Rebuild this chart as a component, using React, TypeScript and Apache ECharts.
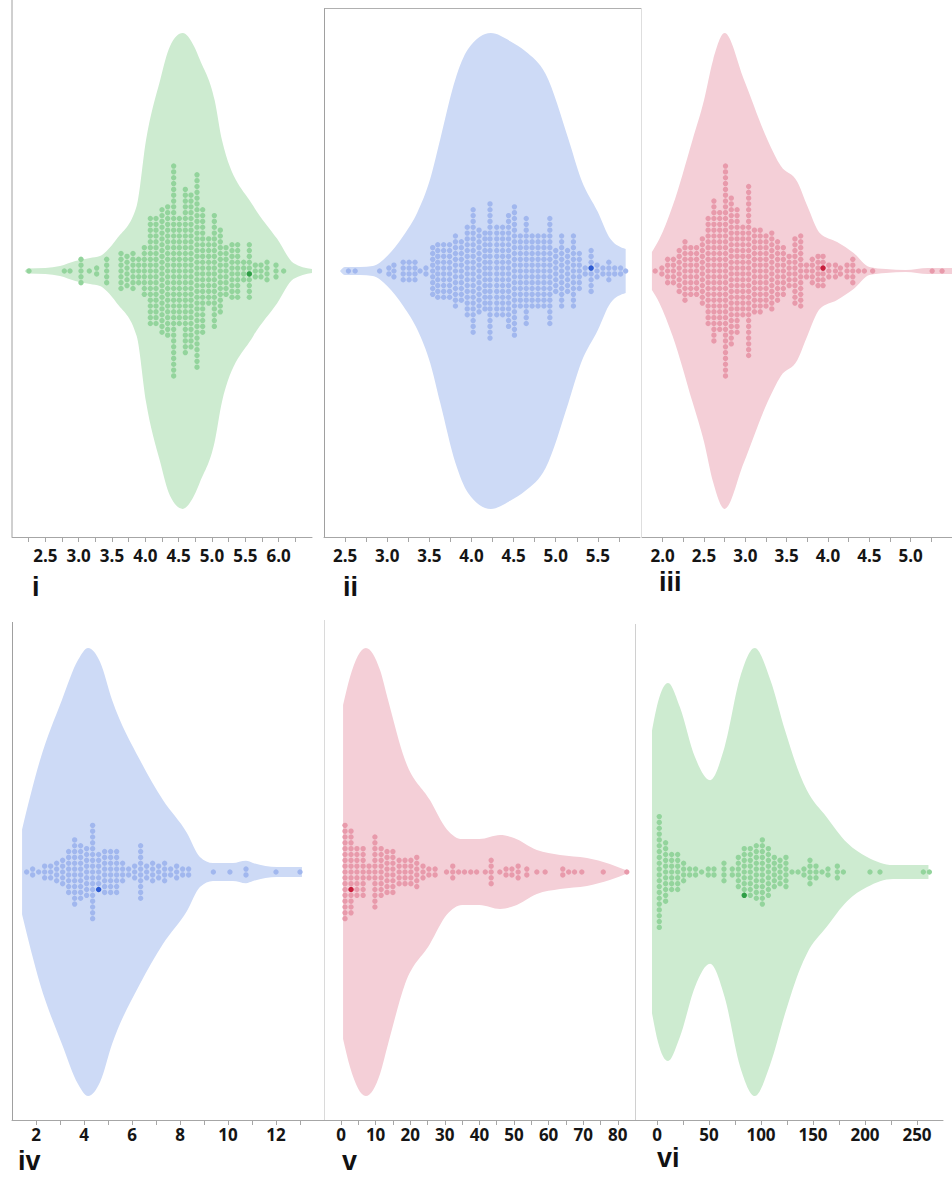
import React, { useEffect, useRef } from "react";
import * as echarts from "echarts";

// ---------- violin profiles: [value, relative density (peak = 1)] ----------
const violinI = [[2.19,0],[2.24,0.011],[2.5,0.013],[2.72,0.021],[2.95,0.042],[3.17,0.055],[3.32,0.063],[3.42,0.084],[3.57,0.134],[3.87,0.273],[4.01,0.55],[4.22,0.8],[4.37,0.945],[4.56,1.0],[4.73,0.945],[4.82,0.887],[5.04,0.718],[5.15,0.55],[5.62,0.273],[5.98,0.134],[6.22,0.034],[6.5,0.008]];
const violinII = [[2.44,0],[2.5,0.017],[2.68,0.017],[2.83,0.021],[3.0,0.063],[3.19,0.147],[3.36,0.248],[3.51,0.387],[3.63,0.555],[3.81,0.807],[3.96,0.933],[4.23,1.0],[4.46,0.966],[4.64,0.924],[4.88,0.828],[5.15,0.555],[5.3,0.387],[5.5,0.248],[5.65,0.134],[5.83,0.092]];
const violinIII = [[1.87,0.08],[1.96,0.134],[2.12,0.273],[2.36,0.55],[2.5,0.718],[2.61,0.887],[2.75,1.0],[2.98,0.807],[3.27,0.55],[3.43,0.441],[3.63,0.374],[3.75,0.273],[3.9,0.16],[4.11,0.122],[4.31,0.076],[4.5,0.017],[4.7,0.008],[4.94,0.004],[5.21,0.013],[5.42,0.013],[5.5,0.013]];
const violinIV = [[1.42,0.19],[2.17,0.5],[3.08,0.768],[3.75,0.946],[4.17,1.0],[4.67,0.9375],[5.17,0.768],[6.33,0.5],[7.29,0.321],[8.29,0.174],[8.83,0.067],[9.375,0.04],[10.2,0.04],[10.75,0.05],[11.04,0.04],[12.04,0.022],[12.7,0.022],[13.08,0.022]];
const violinV = [[0.6,0.745],[2.6,0.87],[7.2,1.0],[11.3,0.9],[13.6,0.768],[18.5,0.5],[25.7,0.321],[30.6,0.19],[35,0.147],[40,0.147],[46,0.165],[50,0.152],[56.6,0.098],[63.3,0.076],[71.1,0.0625],[77.7,0.036],[83,0.004]];
const violinVI = [[-4.8,0.63],[1,0.76],[10.6,0.844],[22,0.737],[36.5,0.513],[51,0.41],[65,0.558],[80,0.87],[94,1.0],[109,0.857],[123,0.634],[137.5,0.433],[144,0.366],[163,0.246],[183,0.129],[202,0.067],[227,0.031],[250,0.031],[261,0.031]];

// ---------- beeswarm columns: [value, number of dots] ----------
const dotsI = [[2.255,1],[2.785,1],[2.87,1],[3.035,5],[3.16,1],[3.27,2],[3.42,5],[3.635,7],[3.725,6],[3.815,7],[3.9,5],[3.985,9],[4.075,19],[4.16,19],[4.25,22],[4.335,23],[4.425,37],[4.51,19],[4.6,29],[4.685,27],[4.775,34],[4.86,22],[4.95,12],[5.035,20],[5.125,15],[5.21,9],[5.3,10],[5.385,10],[5.475,4],[5.56,10],[5.65,3],[5.735,3],[5.825,4],[5.96,3],[6.075,1]];
const dotsII = [[2.54,1],[2.62,1],[2.91,1],[3.02,2],[3.08,3],[3.19,4],[3.26,4],[3.33,4],[3.39,1],[3.46,2],[3.54,9],[3.6,10],[3.67,10],[3.74,10],[3.81,13],[3.88,11],[3.95,16],[4.02,22],[4.09,15],[4.16,14],[4.22,24],[4.3,16],[4.37,16],[4.44,20],[4.51,23],[4.58,13],[4.65,19],[4.72,13],[4.79,13],[4.86,13],[4.93,19],[5.0,8],[5.07,13],[5.14,8],[5.21,13],[5.28,7],[5.35,2],[5.42,8],[5.49,3],[5.56,2],[5.63,4],[5.7,2],[5.77,2],[5.83,1]];
const dotsIII = [[1.91,1],[1.99,2],[2.06,5],[2.13,5],[2.2,8],[2.27,11],[2.34,9],[2.41,9],[2.48,12],[2.55,19],[2.62,25],[2.69,21],[2.76,37],[2.83,26],[2.9,22],[2.97,16],[3.04,30],[3.11,15],[3.18,15],[3.25,13],[3.32,14],[3.39,11],[3.46,9],[3.53,6],[3.6,12],[3.67,13],[3.74,3],[3.81,5],[3.88,6],[3.94,6],[4.01,3],[4.09,3],[4.15,2],[4.23,3],[4.3,5],[4.37,1],[4.44,1],[4.54,1],[5.26,1],[5.38,1]];
const dotsIV = [[1.61,1],[1.86,2],[2.11,1],[2.36,3],[2.61,3],[2.86,4],[3.11,5],[3.36,8],[3.61,12],[3.86,10],[4.11,9],[4.36,17],[4.61,7],[4.86,8],[5.11,8],[5.36,8],[5.61,4],[5.86,2],[6.11,3],[6.36,10],[6.61,3],[6.86,4],[7.11,3],[7.36,4],[7.61,2],[7.86,3],[8.11,2],[8.36,2],[9.39,1],[10.08,1],[10.75,2],[12.0,1],[13.0,1]];
const dotsV = [[1.16,17],[2.9,15],[4.6,9],[6.4,9],[8.1,3],[9.8,13],[11.6,9],[13.3,8],[15.0,8],[16.8,5],[18.5,5],[20.2,5],[21.9,6],[23.7,3],[25.4,2],[27.2,2],[30.5,1],[32.3,3],[34.0,1],[35.7,1],[37.5,1],[39.2,1],[41.7,1],[43.4,5],[45.9,1],[47.7,2],[49.4,2],[51.2,3],[53.7,2],[56.6,1],[59.0,1],[64.1,2],[65.8,1],[67.5,1],[69.6,1],[75.8,1],[82.6,1]];
const dotsVI = [[2.2,20],[8.3,11],[14.1,7],[19.9,7],[25.6,4],[31.4,2],[37.1,2],[42.9,1],[49.3,2],[54.8,2],[64.4,4],[72.4,2],[78.2,6],[83.9,9],[89.7,9],[95.5,10],[101.3,12],[107.1,9],[112.8,6],[118.3,5],[124.0,6],[129.8,1],[135.6,1],[141.3,2],[147.1,5],[152.9,3],[158.7,1],[164.4,2],[173.4,3],[179.2,1],[204.8,1],[214.4,1],[256.1,1],[261.9,1]];

// ---------- highlighted dot: [column value, slot offset from centre] ----------
const highlightI = [5.56, -0.5];
const highlightII = [5.42, 0.5];
const highlightIII = [3.94, 0.5];
const highlightIV = [4.61, -3];
const highlightV = [2.9, -3];
const highlightVI = [83.9, -4];

// ---------- axes: [min, max, tick step, label step] ----------
const axisI = [2.0, 6.5, 0.25, 0.5];
const axisII = [2.25, 6.0, 0.25, 0.5];
const axisIII = [1.75, 5.5, 0.25, 0.5];
const axisIV = [1, 14, 1, 2];
const axisV = [-5, 85, 5, 10];
const axisVI = [-25, 275, 25, 50];

const panelNames = ["i", "ii", "iii", "iv", "v", "vi"];

const GREEN = { fill: "#cdebd0", dot: "#93d49c", hl: "#2f9e46" };
const BLUE = { fill: "#cddaf6", dot: "#a1b7ee", hl: "#2d5bd3" };
const RED = { fill: "#f4cfd7", dot: "#e89aab", hl: "#c81e3c" };

const ROWS = [
  { top: 5, height: 532, yMax: 1.118, labelMargin: 10 },
  { top: 624, height: 496, yMax: 1.107, labelMargin: 6 },
];
const DOT_STEP_PX = 5.83;
const FONT = "'Open Sans', 'Noto Sans', sans-serif";
const NAME_FONT = "'Liberation Sans', Arial, sans-serif";

const PANELS = [
  { violin: violinI, dots: dotsI, hl: highlightI, axis: axisI, dec: 1, pal: GREEN, row: 0, left: 12, width: 300 },
  { violin: violinII, dots: dotsII, hl: highlightII, axis: axisII, dec: 1, pal: BLUE, row: 0, left: 324, width: 316 },
  { violin: violinIII, dots: dotsIII, hl: highlightIII, axis: axisIII, dec: 1, pal: RED, row: 0, left: 642, width: 315 },
  { violin: violinIV, dots: dotsIV, hl: highlightIV, axis: axisIV, dec: 0, pal: BLUE, row: 1, left: 12, width: 312 },
  { violin: violinV, dots: dotsV, hl: highlightV, axis: axisV, dec: 0, pal: RED, row: 1, left: 323.7, width: 311.4 },
  { violin: violinVI, dots: dotsVI, hl: highlightVI, axis: axisVI, dec: 0, pal: GREEN, row: 1, left: 631, width: 312 },
];

const NAME_POS = [
  [32, 587], [343, 587], [659, 582], [18, 1161], [342, 1161], [657, 1158],
];

// monotone (d3 monotoneX-like) tangents for a pixel polyline with increasing x
function tangents(p: number[][]) {
  const n = p.length;
  const m = new Array(n).fill(0);
  if (n < 2) return m;
  const h: number[] = [];
  const s: number[] = [];
  for (let i = 0; i < n - 1; i++) {
    h[i] = p[i + 1][0] - p[i][0] || 1e-6;
    s[i] = (p[i + 1][1] - p[i][1]) / h[i];
  }
  for (let i = 1; i < n - 1; i++) {
    const s0 = s[i - 1], s1 = s[i];
    const pp = (s0 * h[i] + s1 * h[i - 1]) / (h[i - 1] + h[i]);
    m[i] = (Math.sign(s0) + Math.sign(s1)) * Math.min(Math.abs(s0), Math.abs(s1), 0.5 * Math.abs(pp)) || 0;
  }
  m[0] = n > 2 ? (3 * s[0] - m[1]) / 2 : s[0];
  m[n - 1] = n > 2 ? (3 * s[n - 2] - m[n - 2]) / 2 : s[n - 2];
  return m;
}

function violinPath(up: number[][], lo: number[][]) {
  const n = up.length;
  const mu = tangents(up);
  const ml = tangents(lo);
  const f = (v: number) => v.toFixed(2);
  let d = `M${f(up[0][0])},${f(up[0][1])}`;
  for (let i = 0; i < n - 1; i++) {
    const dx = up[i + 1][0] - up[i][0];
    d += `C${f(up[i][0] + dx / 3)},${f(up[i][1] + (mu[i] * dx) / 3)},${f(up[i + 1][0] - dx / 3)},${f(up[i + 1][1] - (mu[i + 1] * dx) / 3)},${f(up[i + 1][0])},${f(up[i + 1][1])}`;
  }
  d += `L${f(lo[n - 1][0])},${f(lo[n - 1][1])}`;
  for (let i = n - 2; i >= 0; i--) {
    const dx = lo[i + 1][0] - lo[i][0];
    d += `C${f(lo[i + 1][0] - dx / 3)},${f(lo[i + 1][1] - (ml[i + 1] * dx) / 3)},${f(lo[i][0] + dx / 3)},${f(lo[i][1] + (ml[i] * dx) / 3)},${f(lo[i][0])},${f(lo[i][1])}`;
  }
  return d + "Z";
}

function buildOption() {
  const grid: any[] = [];
  const xAxis: any[] = [];
  const yAxis: any[] = [];
  const series: any[] = [];

  PANELS.forEach((p, i) => {
    const row = ROWS[p.row];
    const [min, max, step, labelStep] = p.axis;
    grid.push({ left: p.left, top: row.top, width: p.width, height: row.height, containLabel: false });
    xAxis.push({
      type: "value",
      gridIndex: i,
      min,
      max,
      interval: step,
      position: "bottom",
      splitLine: { show: false },
      axisLine: { show: true, onZero: false, lineStyle: { color: "#a6a6a6", width: 1 } },
      axisTick: { show: true, length: 5, lineStyle: { color: "#a6a6a6" } },
      axisLabel: {
        show: true,
        margin: row.labelMargin,
        color: "#151515",
        fontFamily: FONT,
        fontWeight: "bold",
        fontSize: 17,
        showMinLabel: false,
        showMaxLabel: false,
        formatter: (v: number) => {
          const r = v / labelStep;
          if (Math.abs(r - Math.round(r)) > 1e-6) return "";
          if (Math.abs(v - min) < 1e-9 || Math.abs(v - max) < 1e-9) return "";
          return v.toFixed(p.dec);
        },
      },
    });
    yAxis.push({ type: "value", gridIndex: i, min: -row.yMax, max: row.yMax, show: false });

    const pxPerUnit = row.height / 2 / row.yMax;
    const stepU = DOT_STEP_PX / pxPerUnit;
    const prof = p.violin;
    const fill = p.pal.fill;

    series.push({
      type: "custom",
      xAxisIndex: i,
      yAxisIndex: i,
      silent: true,
      z: 1,
      data: prof,
      renderItem: (params: any, api: any) => {
        if (params.dataIndex !== 0) return { type: "group", children: [] };
        const up = prof.map((q) => api.coord([q[0], q[1]]));
        const lo = prof.map((q) => api.coord([q[0], -q[1]]));
        return {
          type: "path",
          shape: { pathData: violinPath(up, lo) },
          style: { fill, stroke: "none" },
        };
      },
    });

    const pts: number[][] = [];
    p.dots.forEach(([x, n]) => {
      for (let k = 0; k < n; k++) pts.push([x, (k - (n - 1) / 2) * stepU]);
    });
    series.push({
      type: "scatter",
      xAxisIndex: i,
      yAxisIndex: i,
      silent: true,
      z: 2,
      symbol: "circle",
      symbolSize: 5.4,
      itemStyle: { color: p.pal.dot, opacity: 1 },
      data: pts,
    });
    series.push({
      type: "scatter",
      xAxisIndex: i,
      yAxisIndex: i,
      silent: true,
      z: 3,
      symbol: "circle",
      symbolSize: 5.4,
      itemStyle: { color: p.pal.hl, opacity: 1 },
      data: [[p.hl[0], p.hl[1] * stepU]],
    });
  });

  const graphic: any[] = [
    { type: "line", shape: { x1: 12, y1: 0, x2: 12, y2: 537 }, style: { stroke: "#a0a0a0", lineWidth: 1 } },
    { type: "line", shape: { x1: 324.5, y1: 8, x2: 324.5, y2: 537 }, style: { stroke: "#a0a0a0", lineWidth: 1 } },
    { type: "line", shape: { x1: 324.5, y1: 8.5, x2: 641, y2: 8.5 }, style: { stroke: "#b0b0b0", lineWidth: 1 } },
    { type: "line", shape: { x1: 641.5, y1: 8, x2: 641.5, y2: 537 }, style: { stroke: "#dedede", lineWidth: 1 } },
    { type: "line", shape: { x1: 12.5, y1: 622, x2: 12.5, y2: 1120 }, style: { stroke: "#a0a0a0", lineWidth: 1 } },
    { type: "line", shape: { x1: 324.5, y1: 620, x2: 324.5, y2: 1120 }, style: { stroke: "#dadada", lineWidth: 1 } },
    { type: "line", shape: { x1: 635.5, y1: 624, x2: 635.5, y2: 1120 }, style: { stroke: "#d0d0d0", lineWidth: 1 } },
  ];
  panelNames.forEach((name, i) => {
    graphic.push({
      type: "text",
      x: NAME_POS[i][0],
      y: NAME_POS[i][1],
      style: {
        text: name,
        fill: "#111",
        font: `bold 27px ${NAME_FONT}`,
        verticalAlign: "middle",
        align: "left",
      },
    });
  });

  return { animation: false, backgroundColor: "#ffffff", grid, xAxis, yAxis, series, graphic };
}

export default function App() {
  const ref = useRef<HTMLDivElement>(null);
  useEffect(() => {
    document.body.style.margin = "0";
    if (!ref.current) return;
    const chart = echarts.init(ref.current, undefined, { renderer: "svg" });
    chart.setOption(buildOption() as any);
    return () => chart.dispose();
  }, []);
  return <div ref={ref} style={{ width: 952, height: 1178, overflow: "hidden" }} />;
}
